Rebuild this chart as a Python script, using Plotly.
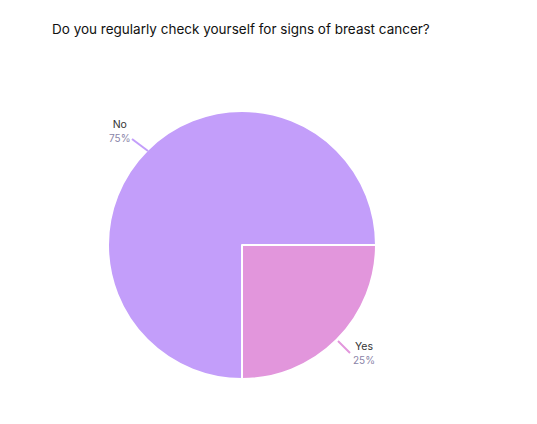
import plotly.graph_objects as go

labels = ["Yes", "No"]
values = [25, 75]
colors = ["#E296DC", "#C39EFA"]

W, H = 537, 424
OFF = 8  # page body offset


def px_x(x):
    return (x - OFF) / W


def px_y(y):
    return 1 - (y - OFF) / H


fig = go.Figure()
fig.add_trace(go.Pie(
    labels=labels,
    values=values,
    sort=False,
    direction="clockwise",
    rotation=90,
    marker=dict(colors=colors, line=dict(color="white", width=2)),
    textinfo="none",
    hoverinfo="label+percent",
    showlegend=False,
    domain=dict(x=[px_x(108), px_x(376)], y=[px_y(379), px_y(111)]),
))

# outside labels with leader lines
label_pos = {"No": (119, 131, 132, 139, 148, 151), "Yes": (364, 353, 338, 341, 350, 353)}
for lab, val, col in zip(labels, values, colors):
    tx, ty, x0, y0, x1, y1 = label_pos[lab]
    fig.add_annotation(
        x=px_x(tx), y=px_y(ty), xref="paper", yref="paper",
        text=f"{lab}<br><span style='font-size:10px;color:#8a84a8'>{val}%</span>",
        showarrow=False, xanchor="center", yanchor="middle",
        font=dict(size=10.5, color="#333333"),
    )
    fig.add_shape(
        type="line", xref="paper", yref="paper",
        x0=px_x(x0), y0=px_y(y0), x1=px_x(x1), y1=px_y(y1),
        line=dict(color=col, width=2),
    )

fig.update_layout(
    width=W,
    height=H,
    margin=dict(l=0, r=0, t=0, b=0),
    paper_bgcolor="white",
    plot_bgcolor="white",
    font=dict(family="Inter, Lato, sans-serif"),
    title=dict(
        text="Do you regularly check yourself for signs of breast cancer?",
        x=(52 - OFF) / W, xanchor="left", y=1 - (29 - OFF) / H, yanchor="middle",
        font=dict(size=13.5, color="#111111"),
    ),
)

fig.write_html("out.html")
